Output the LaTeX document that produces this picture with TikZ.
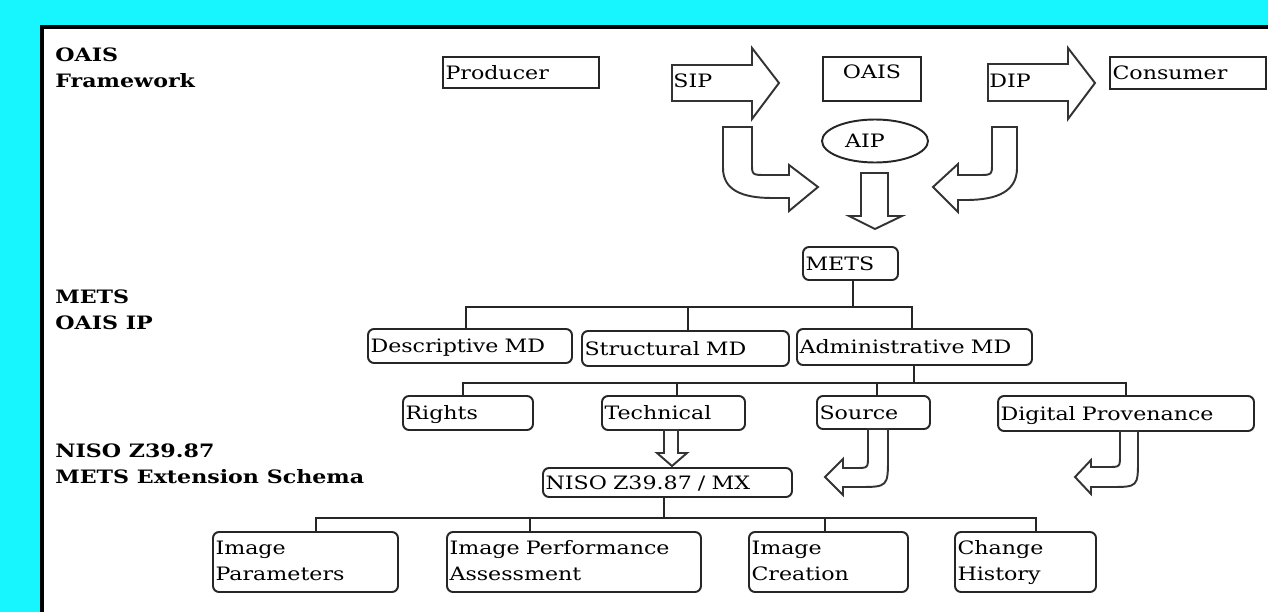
\documentclass[tikz,border=0pt]{standalone}
\usepackage{fontspec}
\setmainfont{DejaVu Serif}[FakeStretch=1.2]
\usetikzlibrary{shapes.geometric}
\definecolor{bgcyan}{RGB}{23,246,255}
\newcommand\boxfont{\fontsize{10.5}{15}\selectfont}

\begin{document}
\begin{tikzpicture}[x=0.02cm, y=-0.02cm,
    box/.style 2 args={draw=black!85, line width=1.1pt, rounded corners=0.12cm,
      inner xsep=0.05cm, inner ysep=0pt, align=left, font=\boxfont,
      text width=#1cm-0.1cm, minimum height=#2cm, text height=7.6pt, text depth=0pt},
    sqbox/.style 2 args={box={#1}{#2}, sharp corners},
    twoline/.style={text depth=16pt},
    blk/.style={draw=black!80, line width=1.1pt, line join=miter},
    tree/.style={draw=black!85, line width=1.1pt},
    side/.style={anchor=north west, align=left, inner sep=0pt,
      font=\boxfont\bfseries},
    txt/.style={anchor=west, inner sep=0pt, font=\boxfont}
  ]
  \useasboundingbox (0,0) rectangle (1268,612);
  \fill[bgcyan] (0,0) rectangle (1268,612);
  \fill[white] (42,27) rectangle (1268,612);
  \draw[line width=0.08cm] (42,612) -- (42,27) -- (1268,27);

  % layer names on the left
  \node[side] (lbloais) at (55,47) {OAIS\\Framework};
  \node[side] (lblmets) at (55,289) {METS\\OAIS IP};
  \node[side] (lblniso) at (55,443) {NISO Z39.87\\METS Extension Schema};

  % OAIS framework
  \node[sqbox={3.12}{0.62}] (prod) at (521,72.5) {Producer};
  \node[draw=black!85, line width=1.1pt, minimum width=1.96cm, minimum height=0.88cm,
    inner sep=0pt, text height=7.6pt, text depth=0.29cm, font=\boxfont] (oais) at (872,79) {OAIS};
  \node[sqbox={3.12}{0.64}] (cons) at (1188,73) {Consumer};
  \node[draw=black!85, line width=1.1pt, ellipse, minimum width=2.12cm,
    minimum height=0.86cm, inner sep=0pt, font=\boxfont] (aip) at (875,141) {AIP\hspace*{0.4cm}};

  \draw[blk] (672,65) -- (752,65) -- (752,48) -- (779,83) -- (752,119) -- (752,101) -- (672,101) -- cycle;
  \draw[blk] (988,64) -- (1068,64) -- (1068,48) -- (1095,83) -- (1068,119) -- (1068,101) -- (988,101) -- cycle;
  \node[txt] (sip) at (673,81) {SIP};
  \node[txt] (dip) at (989,81) {DIP};

  \draw[blk] (752,127) -- (752,163) .. controls (752,175) .. (766,175) -- (789,175) -- (789,165)
    -- (818,187) -- (789,211) -- (789,198) -- (772,198) .. controls (742,198) and (723,190) .. (723,168) -- (723,127) -- cycle;
  \draw[blk] (992,127) -- (992,163) .. controls (992,175) .. (978,175) -- (958,175) -- (958,164)
    -- (933,187) -- (958,212) -- (958,200) -- (966,200) .. controls (998,200) and (1017,191) .. (1017,168) -- (1017,127) -- cycle;
  \draw[blk] (861,173) -- (888,173) -- (888,216) -- (902,216) -- (875,229) -- (849,216) -- (861,216) -- cycle;

  % METS
  \node[box={1.90}{0.66}] (mets) at (850.5,263.5) {METS};
  \node[box={4.08}{0.68}] (desc) at (470,346) {Descriptive MD};
  \node[box={4.14}{0.70}] (struct) at (685.5,348.5) {Structural MD};
  \node[box={4.70}{0.72}] (admin) at (914.5,347) {Administrative MD};
  \node[box={2.60}{0.68}] (rights) at (468,413) {Rights};
  \node[box={2.86}{0.68}] (tech) at (673.5,413) {Technical};
  \node[box={2.26}{0.66}] (source) at (873.5,412.5) {Source};
  \node[box={5.12}{0.70}] (dprov) at (1126,413.5) {Digital Provenance};

  \draw[tree] ([xshift=0.05cm]mets.south) -- ++(0,26) coordinate (bus1);
  \foreach \n/\s in {desc/-0.08, struct/0.05, admin/-0.05}
    \draw[tree] (bus1) -| ([xshift=\s cm]\n.north);
  \draw[tree] ([xshift=-0.01cm]admin.south) -- ++(0,17) coordinate (bus2);
  \foreach \n/\s in {rights/-0.1, tech/0.07, source/0.07, dprov/0}
    \draw[tree] (bus2) -| ([xshift=\s cm]\n.north);

  % NISO Z39.87
  \node[box={4.98}{0.58}] (mx) at (667.5,482.5) {NISO Z39.87 / MX};
  \node[box={3.70}{1.20}, twoline] (ipar) at (305.5,562) {Image\\Parameters};
  \node[box={5.08}{1.20}, twoline] (iperf) at (574,562) {Image Performance\\Assessment};
  \node[box={3.18}{1.20}, twoline] (icre) at (828.5,562) {Image\\Creation};
  \node[box={2.82}{1.20}, twoline] (chist) at (1025.5,562) {Change\\History};

  \draw[blk] (664,430) -- (678,430) -- (678,453) -- (687,453) -- (672,466) -- (657,453) -- (664,453) -- cycle;
  \draw[blk] (868,429) -- (868,456) .. controls (868,468) .. (856,468) -- (843,468) -- (843,459)
    -- (825,477) -- (843,495) -- (843,487) -- (858,487) .. controls (888,487) .. (888,457) -- (888,429) -- cycle;
  \draw[blk] (1120,431) -- (1120,455) .. controls (1120,467) .. (1108,467) -- (1091,467) -- (1091,460)
    -- (1075,477) -- (1091,494) -- (1091,487) -- (1110,487) .. controls (1138,487) .. (1138,459) -- (1138,431) -- cycle;

  \draw[tree] ([xshift=-0.07cm]mx.south) -- ++(0,20) coordinate (bus3);
  \foreach \n/\s in {ipar/0.21, iperf/-0.88, icre/-0.07, chist/0.21}
    \draw[tree] (bus3) -| ([xshift=\s cm]\n.north);
\end{tikzpicture}
\end{document}
